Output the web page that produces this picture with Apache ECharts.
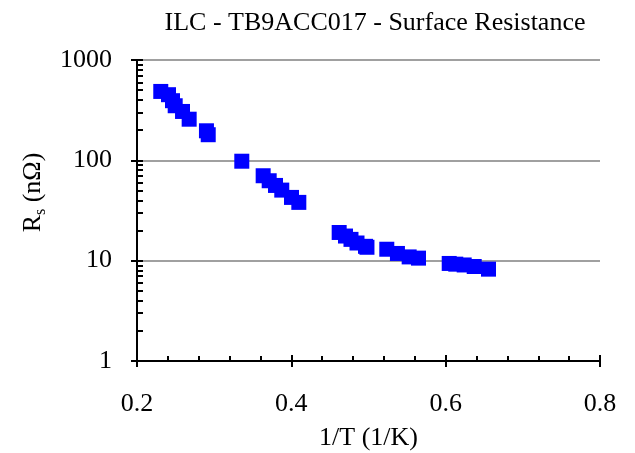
<!DOCTYPE html>
<html>
<head>
<meta charset="utf-8">
<script src="https://cdn.jsdelivr.net/npm/echarts@6/dist/echarts.min.js"></script>
<style>
html,body{margin:0;padding:0;background:#fff;}
#chart{width:635px;height:453px;}
</style>
</head>
<body>
<div id="chart"></div>
<script>
// Data
const invT = [0.2308, 0.2408, 0.2460, 0.2495, 0.2590, 0.2676, 0.2900, 0.2923,
  0.3358, 0.3635, 0.3713, 0.3795, 0.3876, 0.4002, 0.4097,
  0.4620, 0.4702, 0.4773, 0.4851, 0.4961, 0.4980,
  0.5237, 0.5375, 0.5527, 0.5648,
  0.6046, 0.6131, 0.6240, 0.6370, 0.6555];
const rs = [486, 451, 393, 350, 307, 257, 197, 180,
  98, 70.2, 62.6, 56.2, 50.5, 42.7, 38.1,
  19.1, 17.6, 16.3, 15.0, 13.9, 13.6,
  13.0, 11.8, 10.9, 10.6,
  9.38, 9.23, 9.06, 8.75, 8.23];
const xTicks = ['0.2', '0.4', '0.6', '0.8'];
const yTicks = ['1', '10', '100', '1000'];

const FONT = 'Liberation Serif';
const chart = echarts.init(document.getElementById('chart'), null, {renderer: 'canvas'});

const yMinorLog = [];
for (let d = 0; d < 3; d++) {
  for (let k = 2; k <= 9; k++) yMinorLog.push(d + Math.log10(k));
}

const option = {
  backgroundColor: '#ffffff',
  animation: false,
  title: {
    text: 'ILC - TB9ACC017 - Surface Resistance',
    left: 370, top: 5, textAlign: 'center',
    textStyle: {fontFamily: FONT, fontSize: 26, fontWeight: 'normal', color: '#000'}
  },
  grid: {left: 137, right: 35, top: 60, bottom: 92, containLabel: false, outerBoundsMode: 'none'},
  xAxis: [{
    type: 'value', min: 0.2, max: 0.8, interval: 0.2,
    axisLine: {show: true, lineStyle: {color: '#000', width: 2}},
    axisTick: {show: true, inside: false, length: 6, lineStyle: {color: '#000', width: 2}},
    axisLabel: {
      margin: 30, fontFamily: FONT, fontSize: 26, color: '#000',
      formatter: function (v) { const s = v.toFixed(1); return xTicks.indexOf(s) >= 0 ? s : ''; }
    },
    splitLine: {show: false},
    name: '1/T (1/K)', nameLocation: 'middle', nameGap: 64,
    nameTextStyle: {fontFamily: FONT, fontSize: 26, color: '#000'}
  }, {
    type: 'value', min: 0.2, max: 0.8, interval: 0.2, position: 'bottom',
    axisLine: {show: false},
    axisTick: {show: true, inside: true, length: 6, lineStyle: {color: '#000', width: 2}},
    minorTick: {show: true, splitNumber: 5, length: 5, lineStyle: {color: '#000', width: 2}},
    axisLabel: {show: false},
    splitLine: {show: false}
  }],
  yAxis: [{
    type: 'log', logBase: 10, min: 1, max: 1000,
    axisLine: {show: true, lineStyle: {color: '#000', width: 2}},
    axisTick: {show: true, inside: false, length: 6, lineStyle: {color: '#000', width: 2}},
    axisLabel: {
      margin: 25, fontFamily: FONT, fontSize: 26, color: '#000',
      formatter: function (v) { const s = String(Math.round(v)); return yTicks.indexOf(s) >= 0 ? s : ''; }
    },
    splitLine: {show: true, lineStyle: {color: '#a0a0a0', width: 2}},
    name: '{r|R}{s|s}{r| (nΩ)}', nameLocation: 'middle', nameGap: 88, nameRotate: 90,
    nameTextStyle: {
      fontFamily: FONT, fontSize: 26, color: '#000', padding: [0, 0, 0, 36],
      rich: {
        r: {fontFamily: FONT, fontSize: 26, color: '#000', lineHeight: 32},
        s: {fontFamily: FONT, fontSize: 16, color: '#000', lineHeight: 16, verticalAlign: 'bottom'}
      }
    }
  }, {
    type: 'value', min: 0, max: 3, position: 'left',
    axisLine: {show: false},
    axisTick: {show: true, inside: true, length: 6, customValues: yMinorLog.concat([0, 1, 2, 3]),
      lineStyle: {color: '#000', width: 2}},
    axisLabel: {show: false},
    splitLine: {show: false}
  }],
  series: [{
    type: 'scatter',
    xAxisIndex: 0, yAxisIndex: 0,
    symbol: 'rect', symbolSize: 15,
    itemStyle: {color: '#0000ff', opacity: 1},
    data: invT.map((x, i) => [x, rs[i]])
  }]
};
chart.setOption(option);
</script>
</body>
</html>
